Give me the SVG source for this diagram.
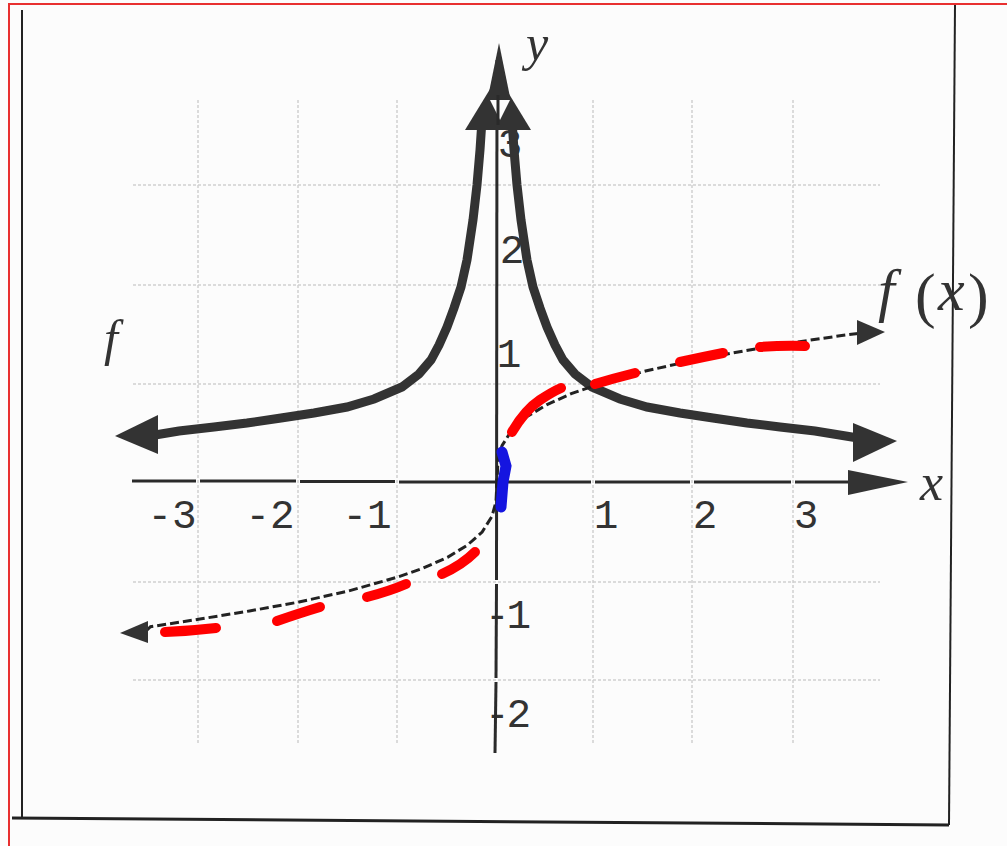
<svg xmlns="http://www.w3.org/2000/svg" width="1007" height="846" viewBox="0 0 1007 846">
<defs>
<style>
.grid{stroke:#cfcfcf;stroke-width:1.5;stroke-dasharray:3 2;fill:none}
.axis{stroke:#2a2a2a;stroke-width:3;fill:none}
.dark{fill:#333}
.fcurve{stroke:#333;stroke-width:9;fill:none;stroke-linejoin:miter}
.cbrt{stroke:#222;stroke-width:3;fill:none;stroke-dasharray:9 4}
.red{stroke:#f00;stroke-width:10;stroke-linecap:round;fill:none}
.num{font-family:"Liberation Mono",monospace;font-size:41px;fill:#333}
.ital{font-family:"Liberation Serif",serif;font-style:italic;fill:#333}
</style>
</defs>
<rect width="1007" height="846" fill="#fcfcfc"/>
<g id="frame">
<rect x="9" y="4" width="1010" height="900" fill="none" stroke="#e83030" stroke-width="2"/>
<line x1="22" y1="10" x2="22" y2="818" stroke="#222" stroke-width="2"/>
<line x1="955" y1="5" x2="949" y2="825" stroke="#222" stroke-width="2"/>
<line x1="12" y1="818" x2="949" y2="825" stroke="#222" stroke-width="3"/>
</g>
<g id="grid">
<line class="grid" x1="133" y1="185" x2="880" y2="185"/>
<line class="grid" x1="133" y1="285" x2="880" y2="285"/>
<line class="grid" x1="133" y1="384" x2="880" y2="384"/>
<line class="grid" x1="133" y1="582" x2="880" y2="582"/>
<line class="grid" x1="133" y1="680" x2="880" y2="680"/>
<line class="grid" x1="198" y1="100" x2="198" y2="745"/>
<line class="grid" x1="298" y1="100" x2="298" y2="745"/>
<line class="grid" x1="397" y1="100" x2="397" y2="745"/>
<line class="grid" x1="593" y1="100" x2="593" y2="745"/>
<line class="grid" x1="692" y1="100" x2="692" y2="745"/>
<line class="grid" x1="793" y1="100" x2="793" y2="745"/>
</g>
<g id="labels-num">
<text class="num" x="172" y="528" text-anchor="middle">-3</text>
<text class="num" x="270" y="528" text-anchor="middle">-2</text>
<text class="num" x="367" y="528" text-anchor="middle">-1</text>
<text class="num" x="606" y="528" text-anchor="middle">1</text>
<text class="num" x="705" y="528" text-anchor="middle">2</text>
<text class="num" x="806" y="528" text-anchor="middle">3</text>
<text class="num" x="509" y="367" text-anchor="middle">1</text>
<text class="num" x="512" y="263" text-anchor="middle">2</text>
<text class="num" x="510" y="157" text-anchor="middle" font-size="32">3</text>
<text class="num" x="485" y="628" letter-spacing="-3">-1</text>
<text class="num" x="485" y="727" letter-spacing="-3">-2</text>
</g>
<g id="axes">
<polyline class="axis" points="132,481 196,481"/>
<polyline class="axis" points="200,481 296,481"/>
<polyline class="axis" points="300,481.5 395,481.5"/>
<polyline class="axis" points="399,482 591,482"/>
<polyline class="axis" points="595,482 690,482"/>
<polyline class="axis" points="694,482 791,482"/>
<polyline class="axis" points="795,482 850,482"/>
<polygon class="dark" points="908,482 848,470 848,495"/>
<polyline class="axis" points="497,60 496.5,580"/>
<polyline class="axis" points="496.5,584 496,678"/>
<polyline class="axis" points="496,682 495,753"/>
</g>
<g id="curve-f">
<polyline class="fcurve" points="512,120 514,150 517,185 521,220 527,260 533,287 540,308 547,327 555,345 563,360 575,374 592,387 620,399 647,407 680,413 713,418 747,423 780,427 815,431 858,438"/>
<polyline class="fcurve" points="482,120 480,150 477,185 473,220 467,260 461,287 454,308 447,327 439,345 431,360 419,374 402,387 374,399 347,407 314,413 281,418 247,423 214,427 179,431 155,435"/>
<polygon class="dark" points="115,436 158,415 158,454"/>
<polygon class="dark" points="897,441 853,423 853,462"/>
<polygon class="dark" points="498,76 531,130 465,130"/>
<polygon class="dark" points="499,43 511,102 487,102"/>
<polygon fill="#fcfcfc" points="490,100 510,100 500,120"/>
<line class="axis" x1="498" y1="95" x2="498" y2="125"/>
</g>
<g id="curve-cbrt">
<polyline class="cbrt" points="146,631 150.5,626.7 200,619 249.5,611 299,602 348.5,591 398,577 422.75,568.3 447.5,557.3 467.3,545.2 482.15,532 492,516.3 496,501.6 497,481 498,460.4 502,445.7 511.85,430 526.7,416.8 546.5,404.8 571.25,393.7 596,385 645.5,371 695,360 744.5,350.8 794,342.5 843.5,335.3 862,333"/>
<polygon class="dark" points="120,633 148,621 148,643"/>
<polygon class="dark" points="885,332 857,320 857,345"/>
<path class="red" d="M165,632 Q190,631 216,628"/>
<path class="red" d="M277,621 Q300,613 320,607"/>
<path class="red" d="M367,597 Q390,591 406,584"/>
<path class="red" d="M442,574 Q462,565 475,552"/>
<path class="red" stroke-width="12" d="M512,432 Q525,410 540,400 Q552,392 561,388"/>
<path class="red" stroke-width="11" d="M595,384 Q615,378 635,373"/>
<path class="red" d="M680,362 Q703,357 723,353"/>
<path class="red" d="M760,347 Q785,345 805,346"/>
<path stroke="#1515e0" stroke-width="11" stroke-linecap="round" fill="none" d="M502,452 L506,466 L503,482 L501,507"/>
</g>
<g id="labels-var">
<text class="ital" x="526" y="60" font-size="50">y</text>
<text class="ital" x="920" y="500" font-size="52">x</text>
<text class="ital" x="104" y="355" font-size="50">f</text>
<text class="ital" x="878" y="310" font-size="60">f</text>
<text x="915" y="316" font-size="62" font-family="Liberation Serif,serif" fill="#333">(</text>
<text class="ital" x="938" y="310" font-size="60">x</text>
<text x="968" y="316" font-size="62" font-family="Liberation Serif,serif" fill="#333">)</text>
</g>
</svg>
